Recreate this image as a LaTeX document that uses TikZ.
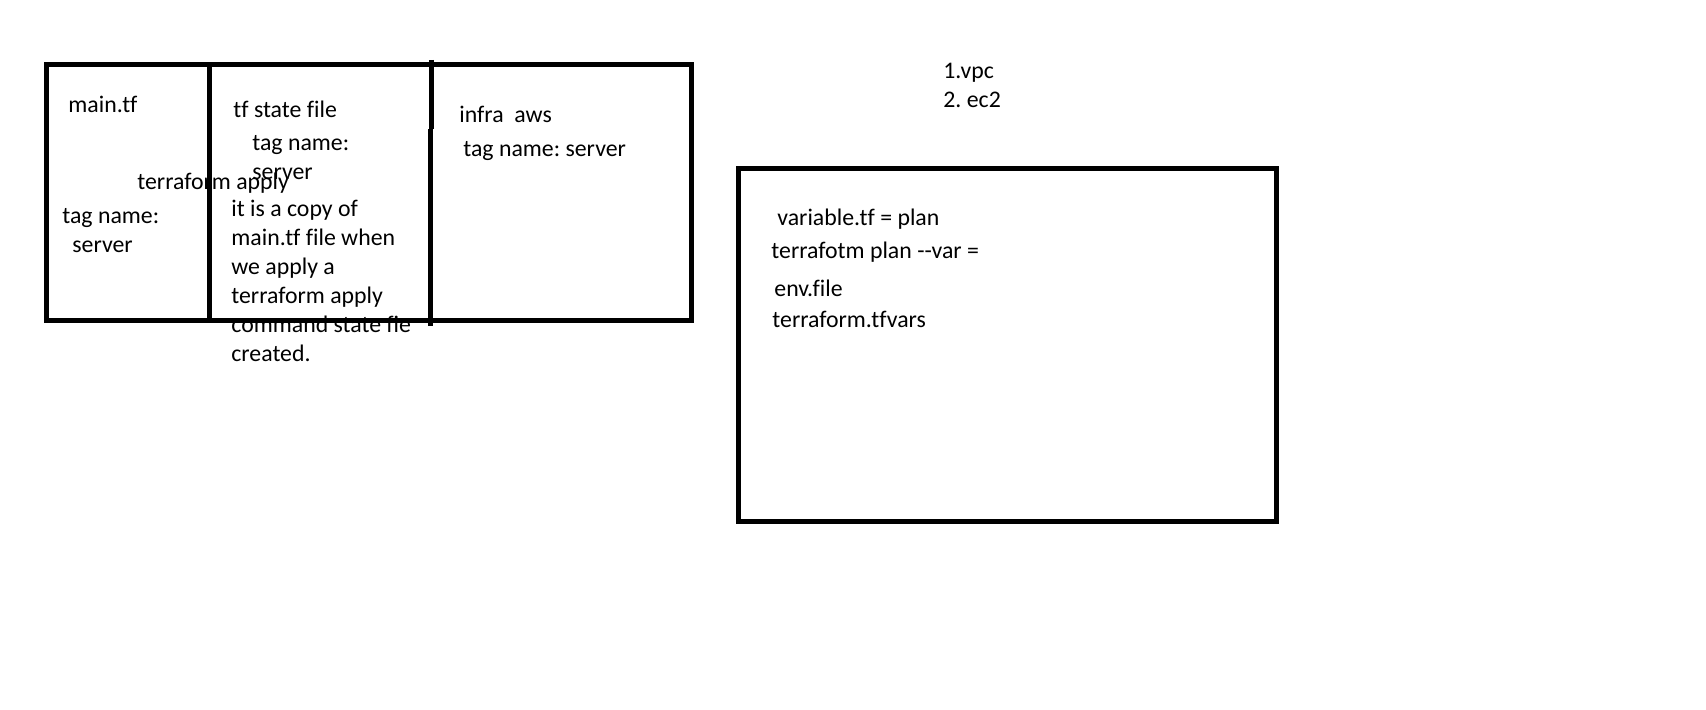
\documentclass[tikz,border=0pt]{standalone}
\usepackage{fontspec}
\setmainfont{Carlito}[Ligatures=NoCommon]
\usepackage{tikz}
\frenchspacing

\tikzset{
	txt/.style={font=\fontsize{11.9}{14.5}\selectfont,anchor=base west,inner sep=0pt,align=left},
	box/.style={line width=2.5pt}
}

\begin{document}
\begin{tikzpicture}[x=0.5pt,y=-0.5pt]
	\useasboundingbox (0,0) rectangle (1706,710);
	\node[txt] (maintf) at (68,113) {main.tf};
	\node[txt] (tagleft) at (62,253) {tag name:\\\hspace*{5pt}server};
	\node[txt] (apply) at (137,190) {terraform apply};
	\node[txt] (state) at (233,118) {tf state file};
	\node[txt] (tagstate) at (252,180) {tag name:\\server};
	\node[txt] (copy) at (231,362) {it is a copy of\\main.tf file when\\we apply a\\terraform apply\\command state fie\\created.};
	\node[txt] (infra) at (459,123) {infra\ \ aws};
	\node[txt] (taginfra) at (463,157) {tag name: server};
	\node[txt] (vpc) at (943,108) {1.vpc\\2. ec2};
	\node[txt] (variable) at (777,226) {variable.tf = plan};
	\node[txt] (planvar) at (771,259) {terrafotm plan -{}-var =};
	\node[txt] (envfile) at (774,297) {env.file};
	\node[txt] (tfvars) at (772,328) {terraform.tfvars};
	\draw[box] (46.5,64.5) rectangle (691.5,321);
	\draw[box] (209.5,64.5) -- (209.5,321);
	\draw[box] (431.5,60) -- (431.5,129) (430,129) -- (430,326);
	\draw[box] (738.5,168.5) rectangle (1276.5,521.5);
\end{tikzpicture}
\end{document}
